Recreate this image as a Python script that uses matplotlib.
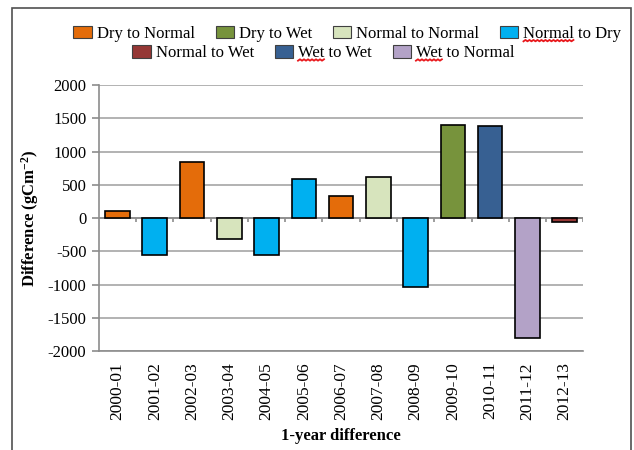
import numpy as np
import matplotlib
matplotlib.use('Agg')
import matplotlib.pyplot as plt
from matplotlib.patches import Patch, Rectangle

plt.rcParams['font.family'] = ['Liberation Serif', 'DejaVu Serif']
plt.rcParams['axes.unicode_minus'] = False
plt.rcParams['mathtext.fontset'] = 'custom'
plt.rcParams['mathtext.rm'] = 'Liberation Serif:bold'
plt.rcParams['mathtext.default'] = 'rm'

# data
periods = ['2000-01', '2001-02', '2002-03', '2003-04', '2004-05', '2005-06', '2006-07',
           '2007-08', '2008-09', '2009-10', '2010-11', '2011-12', '2012-13']
diff = [100, -560, 850, -310, -550, 590, 330, 620, -1040, 1400, 1380, -1810, -60]
trans = ['Dry to Normal', 'Normal to Dry', 'Dry to Normal', 'Normal to Normal', 'Normal to Dry',
         'Normal to Dry', 'Dry to Normal', 'Normal to Normal', 'Normal to Dry', 'Dry to Wet',
         'Wet to Wet', 'Wet to Normal', 'Normal to Wet']

classes_row1 = ['Dry to Normal', 'Dry to Wet', 'Normal to Normal', 'Normal to Dry']
classes_row2 = ['Normal to Wet', 'Wet to Wet', 'Wet to Normal']
colors = {
    'Dry to Normal': '#E46C0A',
    'Dry to Wet': '#77933C',
    'Normal to Normal': '#D7E4BD',
    'Normal to Dry': '#00B0F0',
    'Normal to Wet': '#953735',
    'Wet to Wet': '#376092',
    'Wet to Normal': '#B3A2C7',
}

fig = plt.figure(figsize=(6.34, 4.5), dpi=100)
ax = fig.add_axes([0.156, 0.22, 0.764, 0.591])

x = np.arange(len(periods))
ax.bar(x, diff, width=0.66, color=[colors[t] for t in trans], edgecolor='black',
       linewidth=1.2, zorder=3)

ax.set_ylim(-2000, 2000)
ax.set_xlim(-0.5, len(periods) - 0.5)
ax.set_yticks(np.arange(-2000, 2001, 500))
ax.yaxis.grid(True, color='#A6A6A6', linewidth=1.2, zorder=0)
ax.set_axisbelow(True)
for s in ['top', 'right']:
    ax.spines[s].set_visible(False)
ax.spines['left'].set_color('#8C8C8C')
ax.spines['left'].set_linewidth(1.2)
ax.spines['bottom'].set_color('#8C8C8C')
ax.spines['bottom'].set_linewidth(1.2)
ax.tick_params(axis='y', length=5, width=1.2, color='#8C8C8C', labelsize=12, pad=4)

# category axis at zero with tick marks between categories
ax.axhline(0, color='#8C8C8C', linewidth=1.2, zorder=2)
ax.vlines(x + 0.5, -60, 0, color='#8C8C8C', linewidth=1.2, zorder=2)

ax.set_xticks(x)
ax.set_xticklabels(periods, rotation=90, fontsize=12.5)
ax.tick_params(axis='x', length=0, pad=8)

ax.set_xlabel('1-year difference', fontsize=12, fontweight='bold', labelpad=6)
ax.set_ylabel('Difference (gCm$^{-2}$)', fontsize=12, fontweight='bold', labelpad=5)

def handles(names):
    return [Patch(facecolor=colors[n], edgecolor='#404040', linewidth=0.8, label=n) for n in names]

kw = dict(frameon=False, fontsize=12, handlelength=1.1, handleheight=0.8,
          handletextpad=0.3, columnspacing=1.25, borderaxespad=0, borderpad=0)
leg1 = fig.legend(handles=handles(classes_row1), ncol=4, loc='center',
                  bbox_to_anchor=(0.548, 0.925), **kw)
leg2 = fig.legend(handles=handles(classes_row2), ncol=3, loc='center',
                  bbox_to_anchor=(0.51, 0.882), **kw)

# outer frame
fig.patches.append(Rectangle((12 / 634, -0.05), 619 / 634, 1.05 - 8 / 450,
                             transform=fig.transFigure, fill=False,
                             edgecolor='#505050', linewidth=1.2))

# spell-check squiggles under some legend words
fig.canvas.draw()
r = fig.canvas.get_renderer()

def squiggle(txt, word):
    bb = txt.get_window_extent(r)
    tmp = fig.text(0, 0, word, fontproperties=txt.get_fontproperties())
    w = tmp.get_window_extent(r).width
    tmp.remove()
    xs = np.arange(bb.x0, bb.x0 + w + 1, 2.0)
    ys = bb.y0 + 0.5 + 1.4 * (np.arange(len(xs)) % 2)
    fig.lines.append(plt.Line2D(xs / 634, ys / 450, transform=fig.transFigure,
                                color='#E8171B', linewidth=1.3))

squiggle(leg1.get_texts()[3], 'Normal')
squiggle(leg2.get_texts()[1], 'Wet')
squiggle(leg2.get_texts()[2], 'Wet')

fig.savefig('out.png', dpi=100, facecolor='white')
